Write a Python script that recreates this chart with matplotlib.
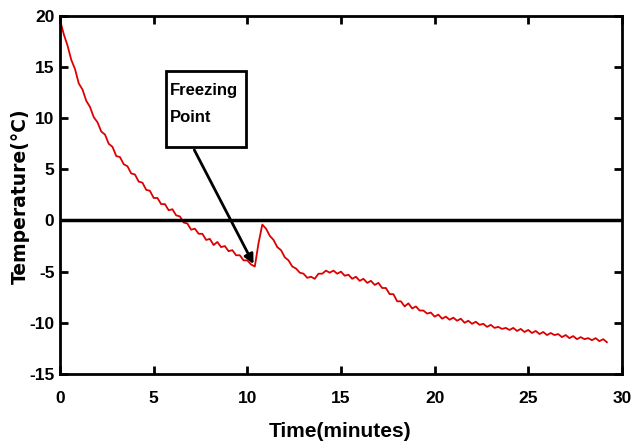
import matplotlib
matplotlib.use("Agg")
import matplotlib.pyplot as plt
import numpy as np
from matplotlib.patches import Rectangle

# temperature readings every 0.2 minutes
temps = [
    19.6, 18.2, 17.1, 15.7, 14.8, 13.4, 12.8, 11.7, 11.1, 10.1,
    9.6, 8.7, 8.4, 7.5, 7.2, 6.3, 6.2, 5.5, 5.3, 4.6,
    4.5, 3.8, 3.7, 3.0, 2.9, 2.2, 2.2, 1.6, 1.6, 1.0,
    1.1, 0.5, 0.4, -0.2, -0.3, -0.9, -0.8, -1.3, -1.3, -1.9,
    -1.8, -2.4, -2.1, -2.6, -2.5, -3.0, -2.9, -3.4, -3.4, -3.9,
    -3.9, -4.3, -4.5, -2.2, -0.4, -0.8, -1.5, -1.9, -2.6, -2.9,
    -3.6, -3.9, -4.5, -4.7, -5.1, -5.2, -5.6, -5.5, -5.7, -5.2,
    -5.2, -4.9, -5.1, -4.9, -5.2, -5.0, -5.4, -5.3, -5.7, -5.5,
    -5.9, -5.7, -6.1, -5.9, -6.3, -6.1, -6.6, -6.6, -7.2, -7.2,
    -7.9, -7.9, -8.4, -8.1, -8.6, -8.4, -8.8, -8.8, -9.1, -9.0,
    -9.4, -9.2, -9.6, -9.4, -9.7, -9.5, -9.8, -9.6, -10.0, -9.8,
    -10.1, -9.9, -10.2, -10.1, -10.4, -10.2, -10.5, -10.4, -10.6, -10.5,
    -10.7, -10.5, -10.8, -10.6, -10.9, -10.7, -11.0, -10.8, -11.1, -10.9,
    -11.2, -11.0, -11.2, -11.1, -11.4, -11.2, -11.5, -11.3, -11.6, -11.4,
    -11.6, -11.5, -11.7, -11.5, -11.8, -11.6, -11.9,
]
times = np.arange(len(temps)) * 0.2

xticks = [0, 5, 10, 15, 20, 25, 30]
yticks = [-15, -10, -5, 0, 5, 10, 15, 20]

plt.rcParams["axes.unicode_minus"] = False
narrow = ["Liberation Sans", "DejaVu Sans"]

fig = plt.figure(figsize=(6.32, 4.42), dpi=100)
ax = fig.add_axes([0.095, 0.154, 0.889, 0.81])

ax.plot(times, temps, color="#dd0000", lw=1.3)
ax.axhline(0, color="black", lw=2.5)

ax.set_xlim(0, 30)
ax.set_ylim(-15, 20)
ax.set_xticks(xticks)
ax.set_yticks(yticks)
for s in ax.spines.values():
    s.set_linewidth(2)
ax.tick_params(direction="in", length=6, width=2, top=True, right=True)
ax.tick_params(axis="x", pad=12)
ax.tick_params(axis="y", pad=4)
for lab in ax.get_xticklabels() + ax.get_yticklabels():
    lab.set_fontfamily(narrow)
    lab.set_fontweight("bold")
    lab.set_fontsize(12.5)

ax.set_xlabel("Time(minutes)", fontfamily=narrow, fontweight="bold", fontsize=15)
ax.xaxis.label.set_va("center")
ax.xaxis.set_label_coords(0.498, -0.162)
ax.set_ylabel("Temperature(°C)", fontfamily=["DejaVu Sans"], fontweight="bold", fontsize=13.5)
ax.yaxis.label.set_va("center")
ax.yaxis.set_label_coords(-0.071, 0.496)

# freezing point call-out
ax.add_patch(Rectangle((5.66, 7.14), 4.27, 7.52, fill=False, edgecolor="black", lw=2, zorder=5))
ax.text(5.85, 13.4, "Freezing\nPoint", fontfamily=narrow, fontweight="bold", fontsize=12,
        va="top", ha="left", linespacing=2.0, zorder=6)
ax.annotate("", xy=(10.4, -4.5), xytext=(7.1, 7.14),
            arrowprops=dict(arrowstyle="-|>", color="black", lw=2, mutation_scale=14))

fig.savefig("out.png", dpi=100)
